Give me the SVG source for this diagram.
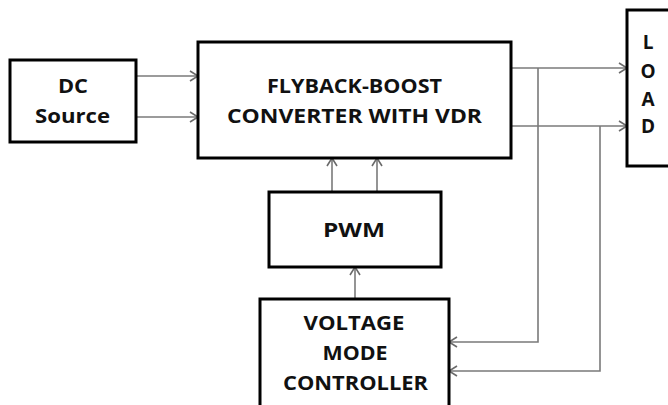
<svg xmlns="http://www.w3.org/2000/svg" width="668" height="405" viewBox="0 0 668 405">
<style>
.box{fill:#fff;stroke:#000;stroke-width:3}
.lbl{font-family:"Open Sans","Liberation Sans",sans-serif;font-weight:bold;font-size:19px;fill:#111;text-anchor:middle}
.wire{fill:none;stroke:#7a7a7a;stroke-width:1.6}
</style>
<defs>
<marker id="ah" markerUnits="userSpaceOnUse" markerWidth="12" markerHeight="12" refX="9" refY="6" orient="auto">
<path d="M1,1 L9,6 L1,11" fill="none" stroke="#6a6a6a" stroke-width="1.6"/>
</marker>
</defs>
<rect width="668" height="405" fill="#fff"/>
<g id="connectors">
<line class="wire" x1="136" y1="76" x2="198" y2="76" marker-end="url(#ah)"/>
<line class="wire" x1="136" y1="117" x2="198" y2="117" marker-end="url(#ah)"/>
<line class="wire" x1="511" y1="68" x2="627" y2="68" marker-end="url(#ah)"/>
<line class="wire" x1="511" y1="126" x2="627" y2="126" marker-end="url(#ah)"/>
<polyline class="wire" points="538,68 538,342 449,342" marker-end="url(#ah)"/>
<polyline class="wire" points="600,126 600,371 449,371" marker-end="url(#ah)"/>
<line class="wire" x1="332" y1="192" x2="332" y2="158" marker-end="url(#ah)"/>
<line class="wire" x1="377" y1="192" x2="377" y2="158" marker-end="url(#ah)"/>
<line class="wire" x1="355" y1="299" x2="355" y2="267" marker-end="url(#ah)"/>
</g>
<g id="dc-source">
<rect class="box" x="10" y="60" width="126" height="82"/>
<text class="lbl" x="73" y="93" textLength="30" lengthAdjust="spacingAndGlyphs">DC</text>
<text class="lbl" x="72.5" y="123" textLength="75" lengthAdjust="spacingAndGlyphs">Source</text>
</g>
<g id="converter">
<rect class="box" x="198" y="42" width="313" height="116"/>
<text class="lbl" x="354.5" y="93" textLength="175" lengthAdjust="spacingAndGlyphs">FLYBACK-BOOST</text>
<text class="lbl" x="354.5" y="123" textLength="255" lengthAdjust="spacingAndGlyphs">CONVERTER WITH VDR</text>
</g>
<g id="load">
<rect class="box" x="627" y="10" width="60" height="156"/>
<text class="lbl" x="648" y="49">L</text>
<text class="lbl" x="648" y="78">O</text>
<text class="lbl" x="648" y="106">A</text>
<text class="lbl" x="648" y="133">D</text>
</g>
<g id="pwm">
<rect class="box" x="269" y="192" width="172" height="75"/>
<text class="lbl" x="354" y="237" textLength="62" lengthAdjust="spacingAndGlyphs">PWM</text>
</g>
<g id="controller">
<rect class="box" x="260" y="299" width="189" height="130"/>
<text class="lbl" x="354" y="330" textLength="101" lengthAdjust="spacingAndGlyphs">VOLTAGE</text>
<text class="lbl" x="355" y="360" textLength="65" lengthAdjust="spacingAndGlyphs">MODE</text>
<text class="lbl" x="355.5" y="390" textLength="145" lengthAdjust="spacingAndGlyphs">CONTROLLER</text>
</g>
</svg>
